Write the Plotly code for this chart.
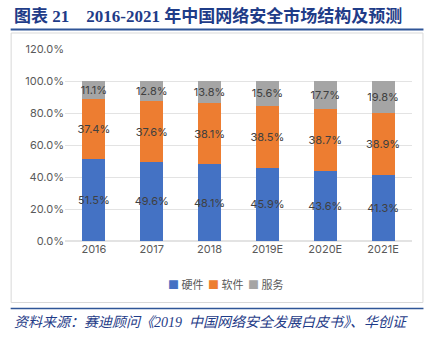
import plotly.graph_objects as go

categories = ["2016", "2017", "2018", "2019E", "2020E", "2021E"]
hardware = [51.5, 49.6, 48.1, 45.9, 43.6, 41.3]
software = [37.4, 37.6, 38.1, 38.5, 38.7, 38.9]
services = [11.1, 12.8, 13.8, 15.6, 17.7, 19.8]
series_names = ["硬件", "软件", "服务"]
colors = ["#4472C4", "#ED7D31", "#A5A5A5"]
y_ticks = [0, 20, 40, 60, 80, 100, 120]

W, H = 430, 338
L, R, T, B = 64.5, 412.5, 49, 241
fig = go.Figure()
for name, vals, col in zip(series_names, [hardware, software, services], colors):
    fig.add_trace(go.Bar(
        x=categories, y=vals, name=name, marker=dict(color=col, line=dict(width=0)),
        text=[f"{v:.1f}%" for v in vals], textposition="inside", textangle=0,
        insidetextanchor="middle", constraintext="none", cliponaxis=False,
        textfont=dict(family="Inter, Noto Sans, sans-serif", size=11, color="#404040"),
        width=0.4,
    ))

fig.update_layout(
    barmode="stack", width=W, height=H,
    margin=dict(l=L, r=W - R, t=T, b=H - B),
    paper_bgcolor="white", plot_bgcolor="white",
    showlegend=False,
    xaxis=dict(showgrid=False, showline=False, ticks="", tickfont=dict(family="Inter, Noto Sans, sans-serif", size=11, color="#595959")),
    yaxis=dict(range=[0, 120], tickvals=y_ticks, ticktext=[f"{v:.1f}%" for v in y_ticks],
               showgrid=True, gridcolor="#E3E3E3", gridwidth=1, zeroline=True, zerolinecolor="#E3E3E3",
               showline=False, ticks="", ticklen=0,
               tickfont=dict(family="Inter, Noto Sans, sans-serif", size=11, color="#595959")),
    font=dict(family="Noto Sans CJK SC"),
)

def px(x):
    return (x - L) / (R - L)
def py(y):
    return (B - y) / (B - T)

shapes = [
    dict(type="rect", xref="paper", yref="paper", x0=px(10.5), x1=px(423.5), y0=py(302.5), y1=py(33),
         line=dict(color="#D9D9D9", width=1), fillcolor="rgba(0,0,0,0)", layer="below"),
    dict(type="line", xref="paper", yref="paper", x0=px(10), x1=px(424), y0=py(29.5), y1=py(29.5),
         line=dict(color="#2F5597", width=2)),
    dict(type="line", xref="paper", yref="paper", x0=px(10), x1=px(424), y0=py(308.5), y1=py(308.5),
         line=dict(color="#2F5597", width=1.5)),
]
fig.update_layout(shapes=shapes)

fig.add_annotation(xref="paper", yref="paper", x=px(11), y=py(16), xanchor="left", yanchor="middle",
                   text="<b>图表 21    2016-2021 年中国网络安全市场结构及预测</b>", showarrow=False,
                   font=dict(family="Liberation Serif, Noto Sans CJK SC", size=17, color="#1F3C88"))
fig.add_annotation(xref="paper", yref="paper", x=px(11), y=py(322), xanchor="left", yanchor="middle",
                   text="<i>资料来源：赛迪顾问《2019  中国网络安全发展白皮书》、华创证</i>", showarrow=False,
                   font=dict(family="Liberation Serif, Noto Sans CJK SC", size=14, color="#1F3C88"))

# compact legend
legend_x = [166, 206, 246]
for name, col, lx in zip(series_names, colors, legend_x):
    fig.add_annotation(xref="paper", yref="paper", x=px(lx), y=py(284), xanchor="left", yanchor="middle",
                       text=f"<span style='color:{col}'>■</span> {name}", showarrow=False,
                       font=dict(family="Noto Sans CJK SC", size=11, color="#595959"))

fig.write_html("out.html")
